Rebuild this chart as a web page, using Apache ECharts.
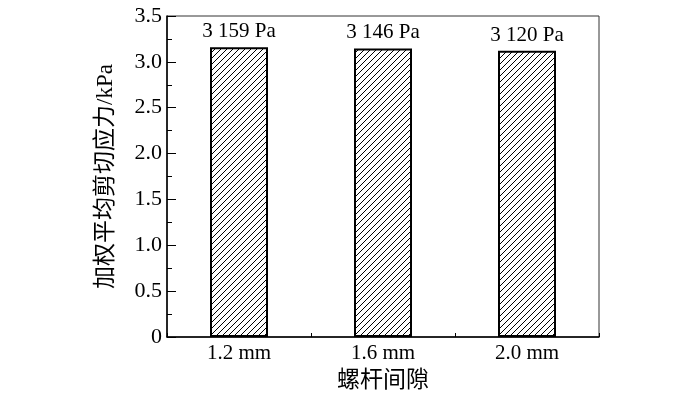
<!DOCTYPE html>
<html>
<head>
<meta charset="utf-8">
<script src="https://cdn.jsdelivr.net/npm/echarts@6/dist/echarts.min.js"></script>
<style>
  html, body { margin: 0; padding: 0; background: #fff; }
  #main { width: 700px; height: 396px; }
</style>
</head>
<body>
<div id="main"></div>
<script>
// data
var categories = ['1.2 mm', '1.6 mm', '2.0 mm'];
var shearValues = [3.159, 3.146, 3.120];   // kPa
var barLabels = ['3 159 Pa', '3 146 Pa', '3 120 Pa'];

var serif = '"Liberation Serif", "Noto Sans CJK SC", serif';

// diagonal hatch tile
function makeHatch() {
  var c = document.createElement('canvas');
  c.width = 6; c.height = 6;
  var ctx = c.getContext('2d');
  ctx.fillStyle = '#fff';
  ctx.fillRect(0, 0, 6, 6);
  ctx.strokeStyle = '#000';
  ctx.lineWidth = 1;
  ctx.beginPath();
  ctx.moveTo(-1, 7); ctx.lineTo(7, -1);
  ctx.moveTo(-1, 1); ctx.lineTo(1, -1);
  ctx.moveTo(5, 7); ctx.lineTo(7, 5);
  ctx.stroke();
  return c;
}

var chart = echarts.init(document.getElementById('main'));
var option = {
  animation: false,
  grid: {
    left: 167, top: 16, right: 101, bottom: 59,
    outerBoundsMode: 'none',
    containLabel: false,
    show: true, borderColor: '#333', borderWidth: 1
  },
  xAxis: {
    type: 'category',
    data: categories,
    name: '螺杆间隙',
    nameLocation: 'middle',
    nameGap: 32,
    nameTextStyle: { fontFamily: serif, fontSize: 23, color: '#000' },
    axisLine: { lineStyle: { color: '#000', width: 1.5 } },
    axisTick: { show: true, inside: true, length: 4, alignWithLabel: false, lineStyle: { color: '#000' } },
    axisLabel: { fontFamily: serif, fontSize: 21, color: '#000', margin: 6 }
  },
  yAxis: {
    type: 'value',
    min: 0, max: 3.5, interval: 0.5,
    name: '加权平均剪切应力/kPa',
    nameLocation: 'middle',
    nameGap: 50,
    nameTextStyle: { fontFamily: serif, fontSize: 23, color: '#000' },
    axisLine: { show: true, lineStyle: { color: '#000', width: 1.5 } },
    axisTick: { show: true, inside: true, length: 9, lineStyle: { color: '#000' } },
    minorTick: { show: true, splitNumber: 2, length: 5, lineStyle: { color: '#000' } },
    splitLine: { show: false },
    axisLabel: {
      fontFamily: serif, fontSize: 22, color: '#000', margin: 5,
      formatter: function (v) { return v === 0 ? '0' : v.toFixed(1); }
    }
  },
  series: [{
    type: 'bar',
    data: shearValues,
    barWidth: 58,
    itemStyle: {
      color: { image: makeHatch(), repeat: 'repeat' },
      borderColor: '#000',
      borderWidth: 2
    },
    label: {
      show: true,
      position: 'top',
      distance: 5,
      fontFamily: serif,
      fontSize: 21,
      color: '#000',
      formatter: function (p) { return barLabels[p.dataIndex]; }
    }
  }]
};
chart.setOption(option);
</script>
</body>
</html>
